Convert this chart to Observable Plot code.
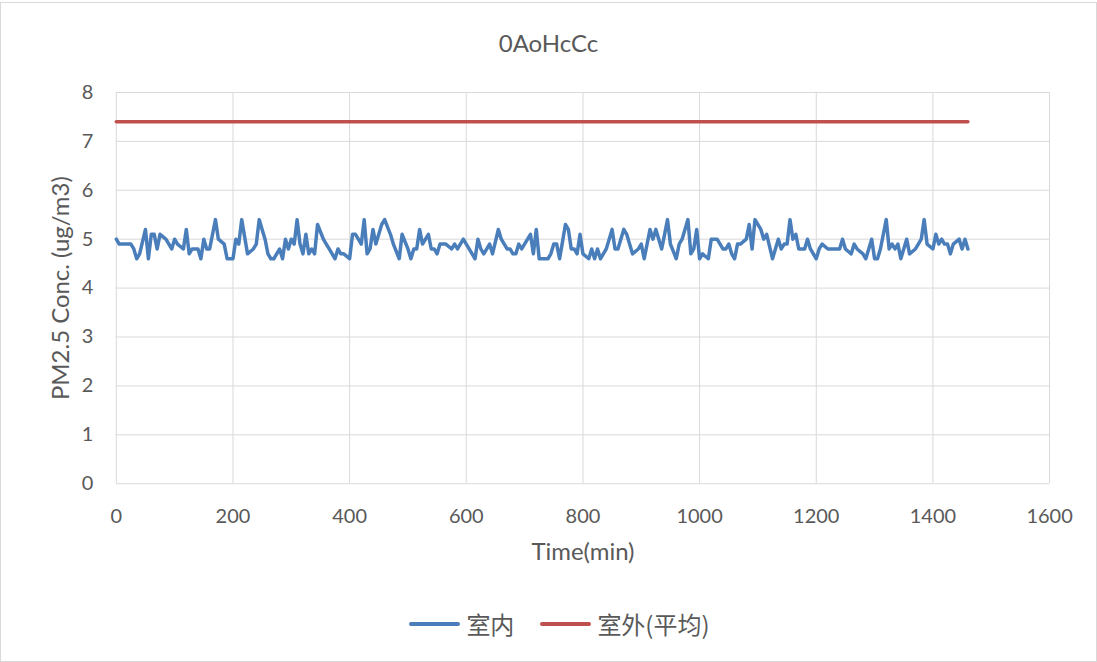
<!DOCTYPE html>
<html><head><meta charset="utf-8">
<script src="https://cdn.jsdelivr.net/npm/d3@7"></script>
<script src="https://cdn.jsdelivr.net/npm/@observablehq/plot@0.6"></script>
<style>
body{margin:0;background:#fff;font-family:Lato,"Noto Sans CJK SC",sans-serif;}
#wrap{position:relative;width:1095px;height:658px;border:1px solid #d9d9d9;margin-top:2px;background:#fff;}
#title{position:absolute;top:25px;left:0;width:100%;text-align:center;font-size:24px;color:#595959;}
#chart{position:absolute;top:67px;left:0;}
#legend{position:absolute;top:603px;left:22px;width:1073px;display:flex;justify-content:center;align-items:center;font-size:24px;color:#595959;font-family:"Noto Sans CJK SC",Lato,sans-serif;}
.item{display:flex;align-items:center;margin:0 13px;}
.sw{display:inline-block;width:51px;height:4px;margin-right:6px;border-radius:2px;}
</style></head>
<body>
<div id="wrap">
  <div id="title"></div>
  <div id="chart"></div>
  <div id="legend"></div>
</div>
<script>
const title = "0AoHcCc";
const xLabel = "Time(min)";
const yLabel = "PM2.5 Conc. (ug/m3)";
const seriesNames = ["室内", "室外(平均)"];
const seriesColors = ["#4a7ebb", "#c0504d"];
const xTicks = [0, 200, 400, 600, 800, 1000, 1200, 1400, 1600];
const yTicks = [0, 1, 2, 3, 4, 5, 6, 7, 8];

const minutes = [0,5,15,25,30,35,40,50,55,60,65,70,75,85,95,100,105,115,120,125,130,140,145,150,155,160,170,175,185,190,195,200,205,210,215,225,235,240,245,250,255,260,265,270,275,280,285,290,295,300,305,310,315,320,325,330,335,340,345,355,360,365,375,380,385,390,400,405,410,415,420,425,430,435,440,445,455,460,470,475,485,490,500,505,510,515,520,525,535,540,545,550,555,565,575,580,585,595,600,610,615,620,625,630,640,645,655,660,670,675,680,685,690,695,710,715,720,725,735,740,745,750,755,760,770,775,780,785,790,795,800,810,815,820,825,830,835,840,850,855,860,870,875,880,885,895,900,905,915,920,925,935,940,945,950,960,965,970,980,985,990,995,1000,1005,1015,1020,1030,1040,1045,1050,1055,1060,1065,1070,1080,1085,1090,1095,1105,1110,1115,1125,1135,1140,1145,1150,1155,1160,1165,1170,1180,1185,1190,1200,1205,1210,1220,1230,1240,1245,1250,1260,1265,1270,1280,1285,1295,1300,1305,1310,1320,1325,1330,1335,1340,1345,1355,1360,1370,1375,1380,1385,1390,1400,1405,1410,1415,1420,1425,1430,1435,1445,1450,1455,1460];
const indoor = [5.0,4.9,4.9,4.9,4.8,4.6,4.7,5.2,4.6,5.1,5.1,4.8,5.1,5.0,4.8,5.0,4.9,4.8,5.2,4.7,4.8,4.8,4.6,5.0,4.8,4.8,5.4,5.0,4.9,4.6,4.6,4.6,5.0,4.9,5.4,4.7,4.8,4.9,5.4,5.2,5.0,4.7,4.6,4.6,4.7,4.8,4.6,5.0,4.8,5.0,4.9,5.4,4.9,4.7,5.1,4.7,4.8,4.7,5.3,5.0,4.9,4.8,4.6,4.8,4.7,4.7,4.6,5.1,5.1,5.0,4.9,5.4,4.7,4.8,5.2,4.9,5.3,5.4,5.1,4.9,4.6,5.1,4.8,4.6,4.8,4.8,5.2,4.9,5.1,4.8,4.8,4.7,4.9,4.9,4.8,4.9,4.8,5.0,4.9,4.7,4.6,5.0,4.8,4.7,4.9,4.7,5.2,5.0,4.8,4.8,4.7,4.7,4.9,4.8,5.1,4.7,5.2,4.6,4.6,4.6,4.7,4.9,4.9,4.6,5.3,5.2,4.8,4.8,4.7,5.1,4.7,4.6,4.8,4.6,4.8,4.6,4.7,4.8,5.2,4.8,4.8,5.2,5.1,4.9,4.7,4.8,4.9,4.6,5.2,5.0,5.2,4.8,5.1,5.4,4.9,4.6,4.9,5.0,5.4,4.7,4.8,5.2,4.6,4.7,4.6,5.0,5.0,4.8,4.8,4.9,4.7,4.6,4.9,4.9,5.0,5.3,4.8,5.4,5.2,5.0,5.1,4.6,5.0,4.8,4.9,4.9,5.4,5.0,5.1,4.8,4.8,5.0,4.8,4.6,4.8,4.9,4.8,4.8,4.8,5.0,4.8,4.7,4.9,4.8,4.7,4.6,5.0,4.6,4.6,4.8,5.4,4.8,4.9,4.8,4.9,4.6,5.0,4.7,4.8,4.9,5.0,5.4,4.9,4.8,5.1,4.9,5.0,4.9,4.9,4.7,4.9,5.0,4.8,5.0,4.8];
const outdoorMinutes = [0, 1460];
const outdoor = [7.4, 7.4];

const indoorData = minutes.map((m, i) => ({x: m, y: indoor[i]}));
const outdoorData = outdoorMinutes.map((m, i) => ({x: m, y: outdoor[i]}));

document.getElementById("title").textContent = title;

const chart = Plot.plot({
  width: 1097,
  height: 508,
  marginLeft: 115,
  marginRight: 47,
  marginTop: 22,
  marginBottom: 94,
  style: {fontFamily: "Lato, sans-serif", fontSize: "20px", color: "#595959", background: "transparent"},
  x: {domain: [0, 1600]},
  y: {domain: [0, 8]},
  marks: [
    Plot.gridX(xTicks, {stroke: "#d9d9d9", strokeOpacity: 1, strokeWidth: 1}),
    Plot.gridY(yTicks, {stroke: "#d9d9d9", strokeOpacity: 1, strokeWidth: 1}),
    Plot.axisX(xTicks, {tickSize: 0, tickPadding: 25, label: null, fill: "#595959", tickFormat: d => String(d)}),
    Plot.axisY(yTicks, {tickSize: 0, tickPadding: 23, label: null, fill: "#595959", tickFormat: d => String(d)}),
    Plot.line(indoorData, {x: "x", y: "y", stroke: seriesColors[0], strokeWidth: 3.5, strokeLinejoin: "round"}),
    Plot.line(outdoorData, {x: "x", y: "y", stroke: seriesColors[1], strokeWidth: 3.5}),
    Plot.text([xLabel], {frameAnchor: "bottom", dy: 76, fontSize: 24, fill: "#595959"}),
    Plot.text([yLabel], {frameAnchor: "left", textAnchor: "middle", dx: -55, rotate: -90, fontSize: 24, fill: "#595959"})
  ]
});
document.getElementById("chart").appendChild(chart);

const legend = document.getElementById("legend");
seriesNames.forEach((name, i) => {
  const it = document.createElement("div");
  it.className = "item";
  const sw = document.createElement("span");
  sw.className = "sw";
  sw.style.background = seriesColors[i];
  const tx = document.createElement("span");
  tx.textContent = name;
  it.appendChild(sw); it.appendChild(tx);
  legend.appendChild(it);
});
</script>
</body></html>
